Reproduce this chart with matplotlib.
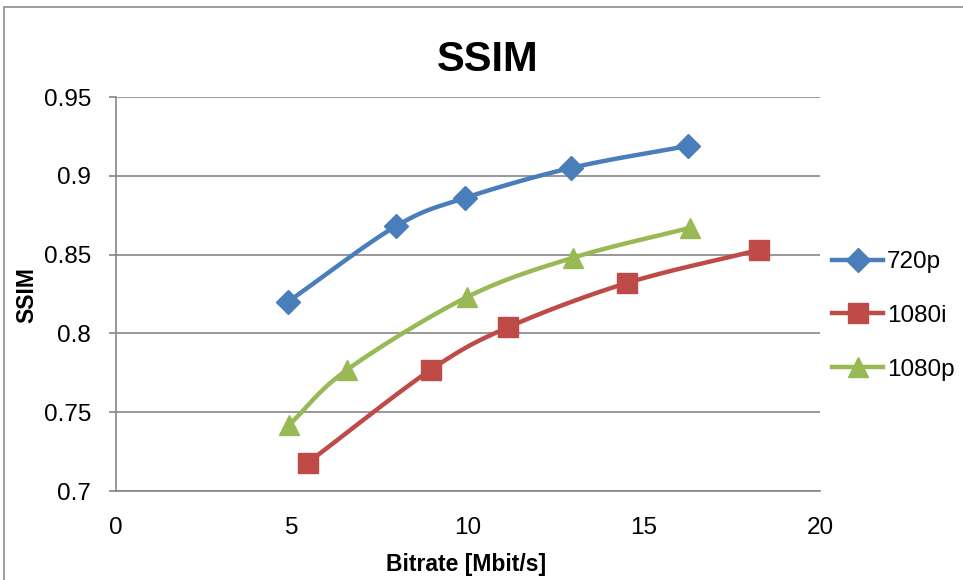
import numpy as np
import matplotlib.pyplot as plt
from matplotlib.patches import Rectangle

# bitrate [Mbit/s] and SSIM per format
bitrate_720p = [4.88, 7.95, 9.92, 12.93, 16.25]
ssim_720p = [0.820, 0.868, 0.886, 0.905, 0.919]
bitrate_1080i = [5.45, 8.95, 11.15, 14.52, 18.27]
ssim_1080i = [0.718, 0.777, 0.804, 0.832, 0.853]
bitrate_1080p = [4.92, 6.57, 9.97, 12.98, 16.30]
ssim_1080p = [0.742, 0.777, 0.823, 0.848, 0.867]

labels = ["720p", "1080i", "1080p"]
colors = ["#4A7EBB", "#BE4B48", "#98B954"]
markers = ["D", "s", "^"]
msizes = [12, 14, 14]

XMAX, YMIN, YMAX = 20, 0.7, 0.95

plt.rcParams['font.family'] = ['Liberation Sans', 'DejaVu Sans']


def smooth(xs, ys, sx, sy, n=30):
    # Catmull-Rom through the points, computed in screen-like proportions
    p = np.column_stack([np.asarray(xs) * sx, np.asarray(ys) * sy])
    p = np.vstack([2 * p[0] - p[1], p, 2 * p[-1] - p[-2]])
    out = []
    for i in range(1, len(p) - 2):
        p0, p1, p2, p3 = p[i - 1], p[i], p[i + 1], p[i + 2]
        t = np.linspace(0, 1, n)[:, None]
        seg = 0.5 * ((2 * p1) + (-p0 + p2) * t
                     + (2 * p0 - 5 * p1 + 4 * p2 - p3) * t ** 2
                     + (-p0 + 3 * p1 - 3 * p2 + p3) * t ** 3)
        out.append(seg if i == 1 else seg[1:])
    out = np.vstack(out)
    return out[:, 0] / sx, out[:, 1] / sy


fig = plt.figure(figsize=(9.63, 5.8), dpi=100)
fig.patches.append(Rectangle((4 / 963, -0.1), 1.2, 1 - 7 / 580 + 0.1,
                             transform=fig.transFigure, fill=False,
                             edgecolor="#8c8c8c", lw=1.2))
ax = fig.add_axes([116 / 963, 1 - 491 / 580, 704 / 963, 394 / 580])

sx = 704 / XMAX
sy = 394 / (YMAX - YMIN)
series = [(bitrate_720p, ssim_720p), (bitrate_1080i, ssim_1080i),
          (bitrate_1080p, ssim_1080p)]
for (xs, ys), lab, col, mk, ms in zip(series, labels, colors, markers, msizes):
    cx, cy = smooth(xs, ys, sx, sy)
    ax.plot(cx, cy, color=col, lw=3.2, solid_capstyle="round", zorder=3)
    ax.plot(xs, ys, linestyle="none", marker=mk, ms=ms, color=col, zorder=4)
    ax.plot([], [], color=col, lw=3.2, marker=mk, ms=ms, label=lab)

ax.set_xlim(0, XMAX)
ax.set_ylim(YMIN, YMAX)
ax.set_xticks([0, 5, 10, 15, 20])
ax.set_yticks([0.7, 0.75, 0.8, 0.85, 0.9, 0.95])
ax.set_yticklabels(["0.7", "0.75", "0.8", "0.85", "0.9", "0.95"])
ax.tick_params(axis="both", labelsize=17.5, colors="#000000")
ax.tick_params(axis="y", length=5, width=1.2, color="#868686", pad=13)
ax.tick_params(axis="x", length=0, pad=19)
ax.grid(axis="y", color="#868686", lw=1.2)
for side in ["top", "right"]:
    ax.spines[side].set_visible(False)
for side in ["left", "bottom"]:
    ax.spines[side].set_color("#868686")
    ax.spines[side].set_linewidth(1.2)

fig.text(488 / 963, 1 - 60 / 580, "SSIM", fontsize=30, fontweight="bold",
         ha="center", va="center")
ax.set_xlabel("Bitrate [Mbit/s]", fontsize=16.5, fontweight="bold")
ax.xaxis.set_label_coords((466 - 116) / 704, (491 - 553) / 394)
ax.set_ylabel("SSIM", fontsize=16.5, fontweight="bold")
ax.yaxis.set_label_coords((38 - 116) / 704, (491 - 295) / 394)

ax.legend(loc="center left", bbox_to_anchor=(1.0, (491 - 316) / 394),
          frameon=False, fontsize=17.5, handlelength=2.1, labelspacing=1.3,
          handletextpad=0.15, borderaxespad=0.1)

fig.savefig("out.png", dpi=100)
